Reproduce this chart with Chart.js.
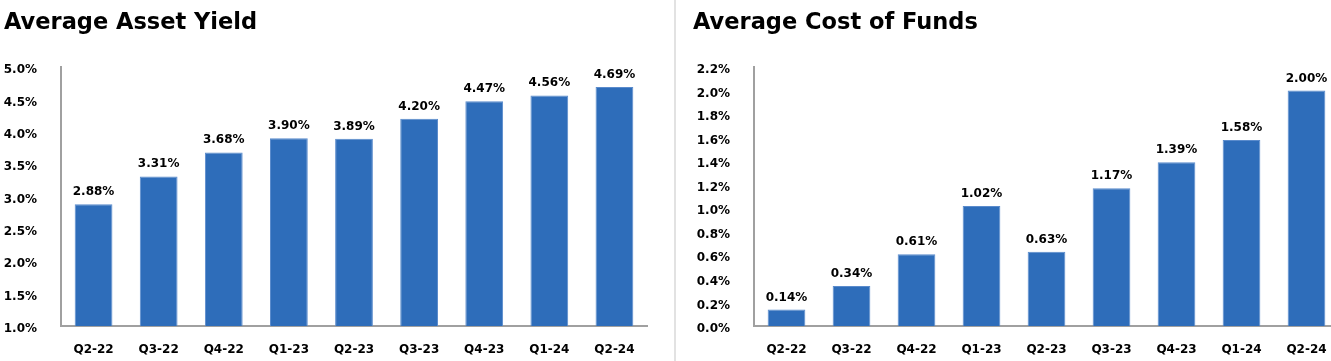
<!DOCTYPE html>
<html><head><meta charset="utf-8">
<script src="https://cdn.jsdelivr.net/npm/chart.js@4.4.1/dist/chart.umd.min.js"></script>
<style>
html,body{margin:0;padding:0;background:#fff;overflow:hidden;width:1331px;height:361px;position:relative;}
#c1{position:absolute;left:0;top:0;}
#c2{position:absolute;left:677px;top:0;}
#divider{position:absolute;left:674px;top:0;width:2px;height:361px;background:#e2e2e2;}
</style></head><body>
<canvas id="c1" width="675" height="361"></canvas>
<div id="divider"></div>
<canvas id="c2" width="670" height="361"></canvas>
<script>
const categories = ['Q2-22','Q3-22','Q4-22','Q1-23','Q2-23','Q3-23','Q4-23','Q1-24','Q2-24'];
const assetYield = [2.88, 3.31, 3.68, 3.90, 3.89, 4.20, 4.47, 4.56, 4.69];
const costOfFunds = [0.14, 0.34, 0.61, 1.02, 0.63, 1.17, 1.39, 1.58, 2.00];
const assetYieldTicks = [1.0, 1.5, 2.0, 2.5, 3.0, 3.5, 4.0, 4.5, 5.0];
const costOfFundsTicks = [0.0, 0.2, 0.4, 0.6, 0.8, 1.0, 1.2, 1.4, 1.6, 1.8, 2.0, 2.2];
const titleLeft = 'Average Asset Yield';
const titleRight = 'Average Cost of Funds';

const FONT = 'DejaVu Sans';
const barColor = '#2E6DBA';
const axisColor = '#a0a0a0';

const valueLabels = {
  id: 'valueLabels',
  afterDatasetsDraw(chart) {
    const ctx = chart.ctx;
    const meta = chart.getDatasetMeta(0);
    const vals = chart.data.datasets[0].data;
    ctx.save();
    ctx.font = 'bold 12px "' + FONT + '"';
    ctx.fillStyle = '#000';
    ctx.textAlign = 'center';
    ctx.textBaseline = 'alphabetic';
    meta.data.forEach((bar, i) => {
      ctx.fillText(vals[i].toFixed(2) + '%', bar.x, bar.y - 9);
    });
    ctx.restore();
  }
};

function makeChart(id, title, values, ticks, padLeft, padRight, yWidth) {
  return new Chart(document.getElementById(id), {
    type: 'bar',
    data: {
      labels: categories,
      datasets: [{
        data: values,
        backgroundColor: barColor,
        borderColor: '#5a8bcc',
        borderWidth: 1,
        categoryPercentage: 1,
        barPercentage: 0.58
      }]
    },
    options: {
      responsive: false,
      animation: false,
      events: [],
      layout: { padding: { left: padLeft, right: padRight, top: 0, bottom: 0 } },
      plugins: {
        legend: { display: false },
        tooltip: { enabled: false },
        title: {
          display: true, text: title, align: 'start', color: '#000',
          font: { family: FONT, size: 22.5, weight: 'bold', lineHeight: 1.2 },
          padding: { top: 10, bottom: 30 }
        }
      },
      scales: {
        x: {
          grid: { display: false, drawTicks: false },
          border: { display: true, color: axisColor, width: 2 },
          ticks: { color: '#000', font: { family: FONT, size: 12, weight: 'bold' }, padding: 17, maxRotation: 0 },
          afterFit(s) { s.height = 35; }
        },
        y: {
          min: ticks[0], max: ticks[ticks.length - 1],
          afterBuildTicks(s) { s.ticks = ticks.map(v => ({ value: v })); },
          grid: { display: false, drawTicks: false },
          border: { display: true, color: axisColor, width: 2 },
          ticks: {
            color: '#000', font: { family: FONT, size: 12, weight: 'bold' }, padding: 24, labelOffset: 3,
            callback: v => Number(v).toFixed(1) + '%'
          },
          afterFit(s) { s.width = yWidth; }
        }
      }
    },
    plugins: [valueLabels]
  });
}

makeChart('c1', titleLeft, assetYield, assetYieldTicks, 4, 28, 57);
makeChart('c2', titleRight, costOfFunds, costOfFundsTicks, 16, 8, 61);
</script>
</body></html>
